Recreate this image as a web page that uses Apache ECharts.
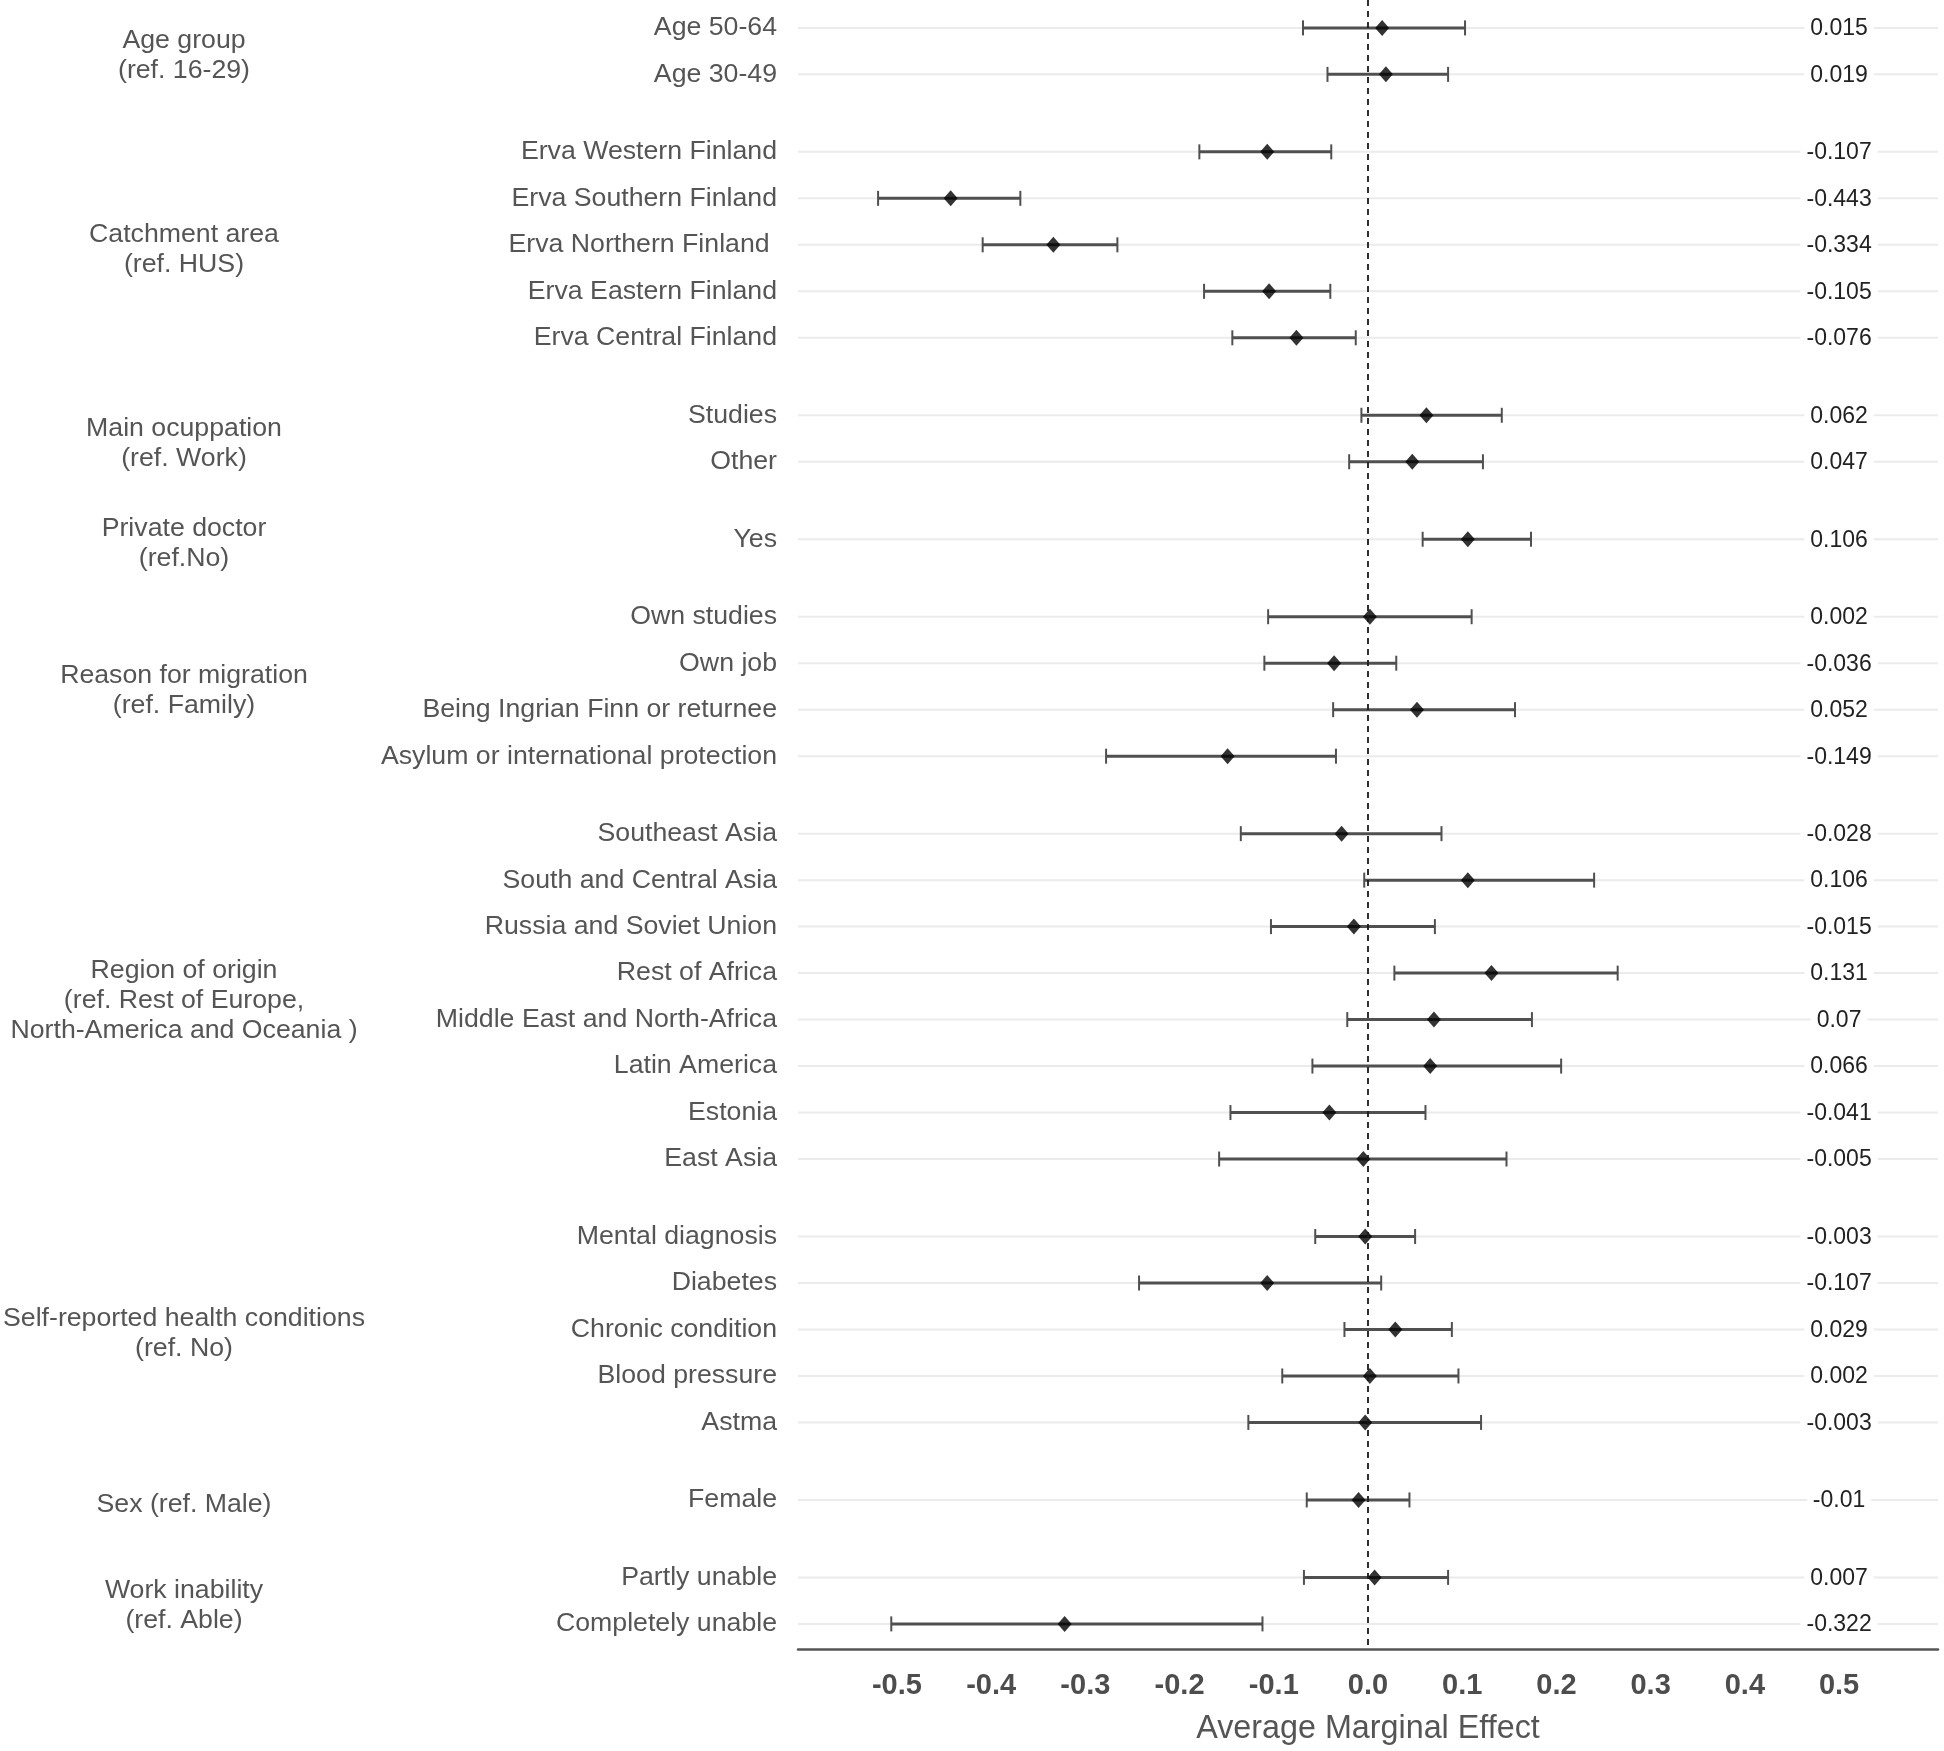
<!DOCTYPE html>
<html>
<head>
<meta charset="utf-8">
<script src="https://cdn.jsdelivr.net/npm/echarts@6/dist/echarts.min.js"></script>
<style>
html,body{margin:0;padding:0;background:#ffffff;}
#chart{width:1944px;height:1751px;}
</style>
</head>
<body>
<div id="chart"></div>
<script>
// ---------------- data ----------------
const groupLabels = [
  'Age group\n(ref. 16-29)',
  'Catchment area\n(ref. HUS)',
  'Main ocuppation\n(ref. Work)',
  'Private doctor\n(ref.No)',
  'Reason for migration\n(ref. Family)',
  'Region of origin\n(ref. Rest of Europe,\nNorth-America and Oceania )',
  'Self-reported health conditions\n(ref. No)',
  'Sex (ref. Male)',
  'Work inability\n(ref. Able)'
];
const rowGroup = [0,0, 1,1,1,1,1, 2,2, 3, 4,4,4,4, 5,5,5,5,5,5,5,5, 6,6,6,6,6, 7, 8,8];
const rowLabels = [
  'Age 50-64','Age 30-49',
  'Erva Western Finland','Erva Southern Finland','Erva Northern Finland ','Erva Eastern Finland','Erva Central Finland',
  'Studies','Other',
  'Yes',
  'Own studies','Own job','Being Ingrian Finn or returnee','Asylum or international protection',
  'Southeast Asia','South and Central Asia','Russia and Soviet Union','Rest of Africa','Middle East and North-Africa','Latin America','Estonia','East Asia',
  'Mental diagnosis','Diabetes','Chronic condition','Blood pressure','Astma',
  'Female',
  'Partly unable','Completely unable'
];
const estimates = [
  0.015, 0.019,
  -0.107, -0.443, -0.334, -0.105, -0.076,
  0.062, 0.047,
  0.106,
  0.002, -0.036, 0.052, -0.149,
  -0.028, 0.106, -0.015, 0.131, 0.07, 0.066, -0.041, -0.005,
  -0.003, -0.107, 0.029, 0.002, -0.003,
  -0.01,
  0.007, -0.322
];
const lowerCI = [
  -0.069, -0.043,
  -0.179, -0.520, -0.409, -0.174, -0.144,
  -0.007, -0.020,
  0.058,
  -0.106, -0.110, -0.037, -0.278,
  -0.135, -0.004, -0.103, 0.028, -0.022, -0.059, -0.146, -0.158,
  -0.056, -0.243, -0.025, -0.091, -0.127,
  -0.065,
  -0.068, -0.506
];
const upperCI = [
  0.103, 0.085,
  -0.039, -0.369, -0.266, -0.040, -0.013,
  0.142, 0.122,
  0.173,
  0.110, 0.030, 0.156, -0.034,
  0.078, 0.240, 0.071, 0.265, 0.174, 0.205, 0.061, 0.147,
  0.050, 0.014, 0.089, 0.096, 0.120,
  0.044,
  0.085, -0.112
];
const xTicks = [-0.5,-0.4,-0.3,-0.2,-0.1,0,0.1,0.2,0.3,0.4,0.5];
const xTitle = 'Average Marginal Effect';
const labelX = 0.5;   // x value where the estimate texts are printed

// ---------------- layout helpers ----------------
const GAP = 0.667;            // extra space between facet groups (in row units)
const pos = rowGroup.map((g, i) => i + g * GAP);
const yMin = -0.6;
const yMax = pos[pos.length - 1] + 0.54;
const STRIP_SHIFT = 0.1;      // strip labels sit slightly below the group centre
const groupCenters = groupLabels.map((_, g) => {
  const ps = pos.filter((p, i) => rowGroup[i] === g);
  return (Math.min(...ps) + Math.max(...ps)) / 2 + STRIP_SHIFT;
});
function nearestIndex(arr, v) {
  let best = 0, bd = Infinity;
  arr.forEach((a, i) => { const d = Math.abs(a - v); if (d < bd) { bd = d; best = i; } });
  return best;
}

const FONT = "'Liberation Sans', Arial, Helvetica, sans-serif";
const chart = echarts.init(document.getElementById('chart'), null, {renderer: 'canvas'});

const option = {
  backgroundColor: '#ffffff',
  animation: false,
  grid: {left: 798, right: 6, top: 0, height: 1649, containLabel: false},
  xAxis: {
    type: 'value',
    min: -0.605, max: 0.605,
    splitLine: {show: false},
    axisTick: {show: false},
    axisLine: {show: true, onZero: false, lineStyle: {color: '#555555', width: 2.5}},
    axisLabel: {
      customValues: xTicks,
      formatter: v => v.toFixed(1),
      fontFamily: FONT, fontSize: 29, fontWeight: 'bold', color: '#4d4d4d', margin: 22
    },
    name: xTitle,
    nameLocation: 'middle',
    nameGap: 64,
    nameTextStyle: {fontFamily: FONT, fontSize: 32.3, color: '#555555'}
  },
  yAxis: [
    {
      type: 'value', inverse: true, min: yMin, max: yMax,
      splitLine: {show: false}, axisTick: {show: false}, axisLine: {show: false},
      axisLabel: {
        customValues: pos,
        formatter: v => rowLabels[nearestIndex(pos, v)],
        fontFamily: FONT, fontSize: 26.7, color: '#555555', margin: 21
      }
    },
    {
      type: 'value', inverse: true, min: yMin, max: yMax, position: 'left',
      splitLine: {show: false}, axisTick: {show: false}, axisLine: {show: false},
      axisLabel: {
        customValues: groupCenters,
        formatter: v => groupLabels[nearestIndex(groupCenters, v)],
        align: 'center',
        fontFamily: FONT, fontSize: 26.7, color: '#555555', margin: 614, lineHeight: 30
      }
    }
  ],
  series: [
    { // horizontal grid lines at each row
      type: 'custom', z: 1, silent: true,
      data: pos.map(p => [0, p]),
      encode: {x: 0, y: 1},
      renderItem: (params, api) => {
        const c = api.coord([0, api.value(1)]);
        const cs = params.coordSys;
        return {type: 'line', shape: {x1: cs.x, y1: c[1], x2: cs.x + cs.width, y2: c[1]},
                style: {stroke: '#ebebeb', lineWidth: 2}};
      }
    },
    { // error bars
      type: 'custom', z: 2, silent: true,
      data: pos.map((p, i) => [lowerCI[i], upperCI[i], p]),
      encode: {x: [0, 1], y: 2},
      renderItem: (params, api) => {
        const a = api.coord([api.value(0), api.value(2)]);
        const b = api.coord([api.value(1), api.value(2)]);
        const h = 7.5;
        return {type: 'group', children: [
          {type: 'line', shape: {x1: a[0], y1: a[1], x2: b[0], y2: b[1]}, style: {stroke: '#505050', lineWidth: 3}},
          {type: 'line', shape: {x1: a[0], y1: a[1] - h, x2: a[0], y2: a[1] + h}, style: {stroke: '#505050', lineWidth: 2}},
          {type: 'line', shape: {x1: b[0], y1: b[1] - h, x2: b[0], y2: b[1] + h}, style: {stroke: '#505050', lineWidth: 2}}
        ]};
      }
    },
    { // dashed zero reference line
      type: 'scatter', z: 3, silent: true, symbolSize: 0,
      data: [[0, pos[0]]],
      markLine: {
        silent: true, symbol: ['none', 'none'],
        label: {show: false},
        lineStyle: {type: [6, 5], color: '#1a1a1a', width: 1.8},
        data: [{xAxis: 0}]
      }
    },
    { // point estimates
      type: 'scatter', z: 4, silent: true,
      symbol: 'diamond', symbolSize: [14, 16],
      itemStyle: {color: '#000000'},
      data: pos.map((p, i) => [estimates[i], p])
    },
    { // value labels
      type: 'custom', z: 5, silent: true,
      data: pos.map(p => [labelX, p]),
      encode: {x: 0, y: 1},
      renderItem: (params, api) => {
        const c = api.coord([api.value(0), api.value(1)]);
        return {type: 'text', x: c[0], y: c[1] + 1,
                style: {text: String(estimates[params.dataIndex]), fill: '#222222',
                        fontFamily: FONT, fontSize: 23, align: 'center', verticalAlign: 'middle',
                        backgroundColor: '#ffffff', padding: [2, 6]}};
      }
    }
  ]
};
chart.setOption(option);
</script>
</body>
</html>
